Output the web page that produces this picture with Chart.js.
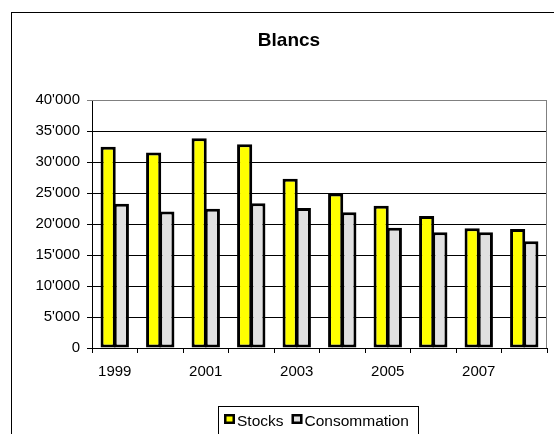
<!DOCTYPE html>
<html>
<head>
<meta charset="utf-8">
<script src="https://cdn.jsdelivr.net/npm/chart.js@4"></script>
<style>
  html, body { margin: 0; padding: 0; background: #fff; }
  #wrap { position: relative; width: 554px; height: 434px; }
</style>
</head>
<body>
<div id="wrap"><canvas id="chart"></canvas></div>
<script>
// Données
const TITLE = 'Blancs';
const years = ['1999', '2000', '2001', '2002', '2003', '2004', '2005', '2006', '2007', '2008'];
const stocks = [32450, 31550, 33850, 32850, 27300, 24900, 22950, 21300, 19300, 19200];
const consommation = [23250, 22000, 22450, 23350, 22600, 21900, 19400, 18650, 18650, 17200];
const seriesNames = ['Stocks', 'Consommation'];
const seriesColors = ['#FFFF00', '#E0E0E0'];
const yMax = 40000;
const yStep = 5000;

const FONT = 'Arial, "Liberation Sans", sans-serif';

// 40000 -> 40'000
function fmt(v) {
  return String(v).replace(/\B(?=(\d{3})+(?!\d))/g, "'");
}

// cadre, titre, bordure du graphique, légende encadrée
const decorPlugin = {
  id: 'decor',
  beforeDraw(chart) {
    const ctx = chart.ctx;
    ctx.save();
    ctx.fillStyle = '#fff';
    ctx.fillRect(0, 0, chart.width, chart.height);
    ctx.strokeStyle = '#000';
    ctx.lineWidth = 1;
    ctx.strokeRect(11.5, 12.5, 700, 600); // cadre extérieur (déborde à droite/en bas)
    ctx.restore();
  },
  afterDatasetsDraw(chart) {
    const ctx = chart.ctx;
    const a = chart.chartArea;
    ctx.save();
    // bord gris du plot (haut / droite)
    ctx.strokeStyle = '#808080';
    ctx.lineWidth = 1;
    ctx.beginPath();
    ctx.moveTo(a.left, a.top + 0.5);
    ctx.lineTo(a.right - 0.5, a.top + 0.5);
    ctx.lineTo(a.right - 0.5, a.bottom);
    ctx.stroke();

    // titre
    ctx.fillStyle = '#000';
    ctx.font = 'bold 19px ' + FONT;
    ctx.textAlign = 'center';
    ctx.textBaseline = 'alphabetic';
    ctx.fillText(TITLE, 289, 46);

    // légende
    ctx.lineWidth = 1;
    ctx.strokeStyle = '#000';
    ctx.strokeRect(218.5, 406.5, 200, 60);
    ctx.font = '15.5px ' + FONT;
    ctx.textAlign = 'left';
    let x = 224;
    chart.data.datasets.forEach((ds) => {
      ctx.fillStyle = ds.backgroundColor;
      ctx.fillRect(x, 414, 11, 10);
      ctx.lineWidth = 2.5;
      ctx.strokeStyle = '#000';
      ctx.strokeRect(x + 1.25, 415.25, 8.5, 7.5);
      ctx.fillStyle = '#000';
      ctx.fillText(ds.label, x + 13, 426);
      x += 13 + ctx.measureText(ds.label).width + 8;
    });
    ctx.restore();
  }
};

new Chart(document.getElementById('chart'), {
  type: 'bar',
  data: {
    labels: years,
    datasets: [
      {
        label: seriesNames[0],
        data: stocks,
        backgroundColor: seriesColors[0],
        borderColor: '#000',
        borderWidth: 3,
        borderSkipped: false
      },
      {
        label: seriesNames[1],
        data: consommation,
        backgroundColor: seriesColors[1],
        borderColor: '#000',
        borderWidth: 3,
        borderSkipped: false
      }
    ]
  },
  plugins: [decorPlugin],
  options: {
    responsive: true,
    maintainAspectRatio: false,
    animation: false,
    devicePixelRatio: 1,
    datasets: {
      bar: { categoryPercentage: 0.58, barPercentage: 1.15 }
    },
    layout: { padding: { top: 100, right: 7, left: 0, bottom: 0 } },
    plugins: {
      legend: { display: false },
      title: { display: false },
      tooltip: { enabled: false }
    },
    scales: {
      x: {
        afterFit(scale) { scale.height = 86; },
        grid: {
          offset: true,
          drawOnChartArea: false,
          drawTicks: true,
          tickLength: 5,
          color: '#000',
          lineWidth: 1
        },
        border: { color: '#000', width: 1 },
        ticks: {
          autoSkip: false,
          maxRotation: 0,
          color: '#000',
          font: { family: FONT, size: 15 },
          padding: 10,
          callback(val, i) { return i % 2 === 0 ? this.getLabelForValue(val) : ''; }
        }
      },
      y: {
        min: 0,
        max: yMax,
        afterFit(scale) { scale.width = 92; },
        grid: {
          color: (c) => (c.tick && c.tick.value === yMax ? '#808080' : '#000'),
          lineWidth: 1,
          tickLength: 5,
          drawTicks: true
        },
        border: { color: '#000', width: 1 },
        ticks: {
          stepSize: yStep,
          color: '#000',
          font: { family: FONT, size: 15 },
          padding: 7,
          callback: (v) => fmt(v)
        }
      }
    }
  }
});
</script>
</body>
</html>
